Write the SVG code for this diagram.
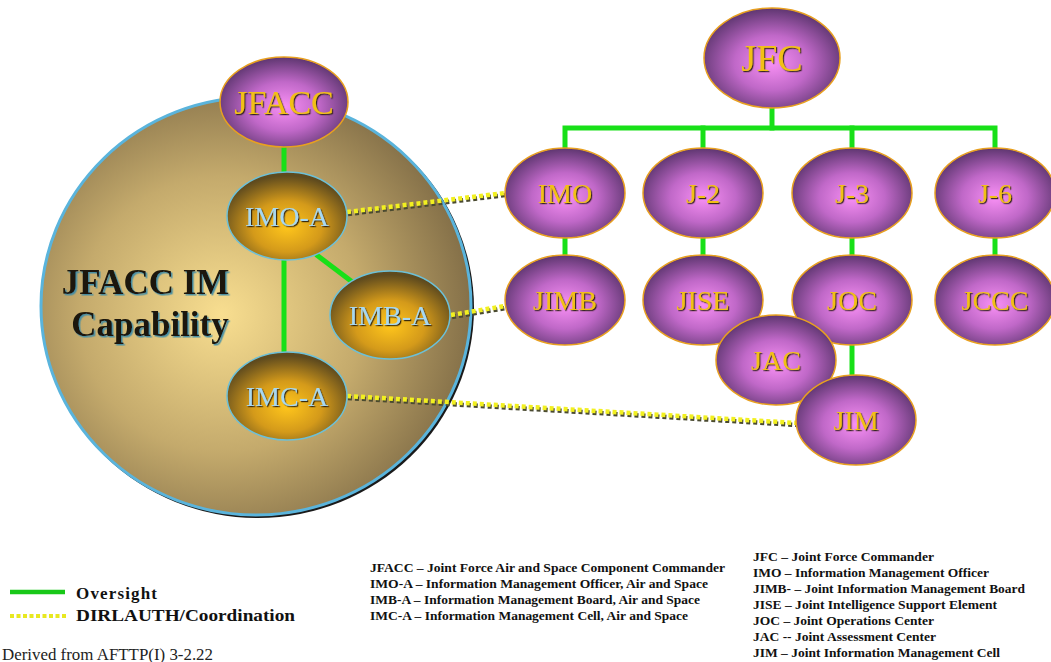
<svg xmlns="http://www.w3.org/2000/svg" width="1051" height="662" viewBox="0 0 1051 662">
  <defs>
    <radialGradient id="gCap" cx="0.42" cy="0.52" r="0.6">
      <stop offset="0" stop-color="#f8de90"/>
      <stop offset="0.55" stop-color="#c4aa6c"/>
      <stop offset="1" stop-color="#806c46"/>
    </radialGradient>
    <radialGradient id="gPurple" cx="0.5" cy="0.55" r="0.55">
      <stop offset="0" stop-color="#f890f4"/>
      <stop offset="0.5" stop-color="#c068c8"/>
      <stop offset="1" stop-color="#5e3670"/>
    </radialGradient>
    <radialGradient id="gGold" cx="0.5" cy="0.62" r="0.58">
      <stop offset="0" stop-color="#ffc61c"/>
      <stop offset="0.5" stop-color="#d49a1a"/>
      <stop offset="1" stop-color="#5e4a1e"/>
    </radialGradient>
    <filter id="txtShadow" x="-10%" y="-20%" width="130%" height="150%">
      <feDropShadow dx="1.2" dy="1.2" stdDeviation="0.3" flood-color="#2a1a10" flood-opacity="0.9"/>
    </filter>
    <filter id="capShadow" x="-10%" y="-20%" width="130%" height="150%">
      <feDropShadow dx="1.5" dy="1.5" stdDeviation="0.4" flood-color="#3a8aa8" flood-opacity="0.9"/>
    </filter>
  </defs>
  <style>
    text { font-family: "Liberation Serif", "Times New Roman", "DejaVu Serif", serif; }
    .oversight { stroke: #18e018; stroke-width: 5; fill: none; stroke-linecap: square; }
    .coord { stroke: #f2f020; stroke-width: 4.5; fill: none; stroke-dasharray: 4 3; }
    .coordShadow { stroke: #4a4a30; stroke-width: 4.5; fill: none; stroke-dasharray: 4 3; }
    .purple { fill: url(#gPurple); stroke: #e8a020; stroke-width: 1.5; }
    .gold { fill: url(#gGold); stroke: #6cc0d8; stroke-width: 1.5; }
    .pLabel { font-size: 28px; fill: #f2c018; text-anchor: middle; filter: url(#txtShadow); }
    .gLabel { font-size: 28px; fill: #a8d8f0; text-anchor: middle; filter: url(#txtShadow); }
    .big { font-size: 34px; }
    .huge { font-size: 38px; }
    .legend { font-weight: bold; font-size: 12px; fill: #111; }
    .key { font-weight: bold; font-size: 17px; fill: #111; }
  </style>

  <rect width="1051" height="662" fill="#ffffff"/>

  <!-- capability boundary -->
  <g id="capability">
    <ellipse cx="258" cy="308" rx="216" ry="210" fill="#1a1a1a"/>
    <ellipse cx="256" cy="306" rx="215" ry="209" fill="url(#gCap)" stroke="#5ab4dc" stroke-width="3"/>
    <text font-weight="bold" font-size="35" fill="#1a1408" text-anchor="middle" filter="url(#capShadow)">
      <tspan x="150" y="294">JFACC IM</tspan>
      <tspan x="150" y="336">Capability</tspan>
    </text>
  </g>

  <!-- connectors -->
  <g id="connectors">
    <line class="oversight" x1="284" y1="140" x2="284" y2="176"/>
    <line class="oversight" x1="284" y1="258" x2="284" y2="356"/>
    <line class="oversight" x1="318" y1="256" x2="351" y2="281"/>
    <line class="oversight" x1="772" y1="106" x2="772" y2="128"/>
    <polyline class="oversight" points="565,150 565,128 995,128 995,150"/>
    <line class="oversight" x1="703" y1="128" x2="703" y2="150"/>
    <line class="oversight" x1="852" y1="128" x2="852" y2="150"/>
    <line class="oversight" x1="565" y1="236" x2="565" y2="258"/>
    <line class="oversight" x1="703" y1="236" x2="703" y2="258"/>
    <line class="oversight" x1="852" y1="236" x2="852" y2="258"/>
    <line class="oversight" x1="995" y1="236" x2="995" y2="258"/>
    <line class="oversight" x1="852" y1="342" x2="852" y2="378"/>

    <path class="coordShadow" d="M348,214 L506,195 M452,317 L506,308 M348,398 L798,425"/>
    <path class="coord" d="M347,212 L505,193 M451,315 L505,306 M347,396 L797,423"/>
  </g>

  <!-- JFACC component nodes -->
  <g id="node-jfacc">
    <ellipse class="purple" cx="284" cy="102" rx="64" ry="45"/>
    <text class="pLabel big" x="284" y="114">JFACC</text>
  </g>
  <g id="node-imo-a">
    <ellipse class="gold" cx="287" cy="216" rx="60" ry="44"/>
    <text class="gLabel" x="287" y="226">IMO-A</text>
  </g>
  <g id="node-imb-a">
    <ellipse class="gold" cx="390" cy="315" rx="60" ry="44"/>
    <text class="gLabel" x="390" y="325">IMB-A</text>
  </g>
  <g id="node-imc-a">
    <ellipse class="gold" cx="287" cy="396" rx="60" ry="44"/>
    <text class="gLabel" x="287" y="406">IMC-A</text>
  </g>

  <!-- joint force nodes -->
  <g id="node-jfc">
    <ellipse class="purple" cx="772" cy="58" rx="68" ry="50"/>
    <text class="pLabel huge" x="772" y="71">JFC</text>
  </g>
  <g id="node-imo">
    <ellipse class="purple" cx="565" cy="193" rx="60" ry="45"/>
    <text class="pLabel" x="565" y="203">IMO</text>
  </g>
  <g id="node-j2">
    <ellipse class="purple" cx="703" cy="193" rx="60" ry="45"/>
    <text class="pLabel" x="703" y="203">J-2</text>
  </g>
  <g id="node-j3">
    <ellipse class="purple" cx="852" cy="193" rx="60" ry="45"/>
    <text class="pLabel" x="852" y="203">J-3</text>
  </g>
  <g id="node-j6">
    <ellipse class="purple" cx="995" cy="193" rx="60" ry="45"/>
    <text class="pLabel" x="995" y="203">J-6</text>
  </g>
  <g id="node-jimb">
    <ellipse class="purple" cx="565" cy="300" rx="60" ry="45"/>
    <text class="pLabel" x="565" y="310">JIMB</text>
  </g>
  <g id="node-jise">
    <ellipse class="purple" cx="703" cy="300" rx="60" ry="45"/>
    <text class="pLabel" x="703" y="310">JISE</text>
  </g>
  <g id="node-joc">
    <ellipse class="purple" cx="852" cy="300" rx="60" ry="45"/>
    <text class="pLabel" x="852" y="310">JOC</text>
  </g>
  <g id="node-jccc">
    <ellipse class="purple" cx="995" cy="300" rx="60" ry="45"/>
    <text class="pLabel" x="995" y="310">JCCC</text>
  </g>
  <g id="node-jac">
    <ellipse class="purple" cx="776" cy="360" rx="60" ry="45"/>
    <text class="pLabel" x="776" y="370">JAC</text>
  </g>
  <g id="node-jim">
    <ellipse class="purple" cx="856" cy="420" rx="60" ry="45"/>
    <text class="pLabel" x="856" y="430">JIM</text>
  </g>

  <!-- key -->
  <g id="key">
    <line x1="10" y1="592" x2="65" y2="592" stroke="#18c818" stroke-width="4.5"/>
    <line x1="10" y1="616" x2="67" y2="616" stroke="#e8e820" stroke-width="4" stroke-dasharray="4 2.5"/>
    <text class="key" x="76" y="599" textLength="81" lengthAdjust="spacing">Oversight</text>
    <text class="key" x="76" y="621" textLength="219" lengthAdjust="spacingAndGlyphs">DIRLAUTH/Coordination</text>
    <text x="2" y="660" font-size="17" fill="#222" textLength="211" lengthAdjust="spacingAndGlyphs">Derived from AFTTP(I) 3-2.22</text>
  </g>

  <!-- abbreviations -->
  <g id="abbrev-left">
    <text class="legend" x="370" y="572" textLength="355" lengthAdjust="spacingAndGlyphs">JFACC – Joint Force Air and Space Component Commander</text>
    <text class="legend" x="370" y="588" textLength="338" lengthAdjust="spacingAndGlyphs">IMO-A – Information Management Officer, Air and Space</text>
    <text class="legend" x="370" y="604" textLength="330" lengthAdjust="spacingAndGlyphs">IMB-A – Information Management Board, Air and Space</text>
    <text class="legend" x="370" y="620" textLength="318" lengthAdjust="spacingAndGlyphs">IMC-A – Information Management Cell, Air and Space</text>
  </g>
  <g id="abbrev-right">
    <text class="legend" x="753" y="561" textLength="181" lengthAdjust="spacingAndGlyphs">JFC – Joint Force Commander</text>
    <text class="legend" x="753" y="577" textLength="236" lengthAdjust="spacingAndGlyphs">IMO – Information Management Officer</text>
    <text class="legend" x="753" y="593" textLength="272" lengthAdjust="spacingAndGlyphs">JIMB- – Joint Information Management Board</text>
    <text class="legend" x="753" y="609" textLength="244" lengthAdjust="spacingAndGlyphs">JISE – Joint Intelligence Support Element</text>
    <text class="legend" x="753" y="625" textLength="181" lengthAdjust="spacingAndGlyphs">JOC – Joint Operations Center</text>
    <text class="legend" x="753" y="641" textLength="183" lengthAdjust="spacingAndGlyphs">JAC -- Joint Assessment Center</text>
    <text class="legend" x="753" y="657" textLength="247" lengthAdjust="spacingAndGlyphs">JIM – Joint Information Management Cell</text>
  </g>
</svg>
